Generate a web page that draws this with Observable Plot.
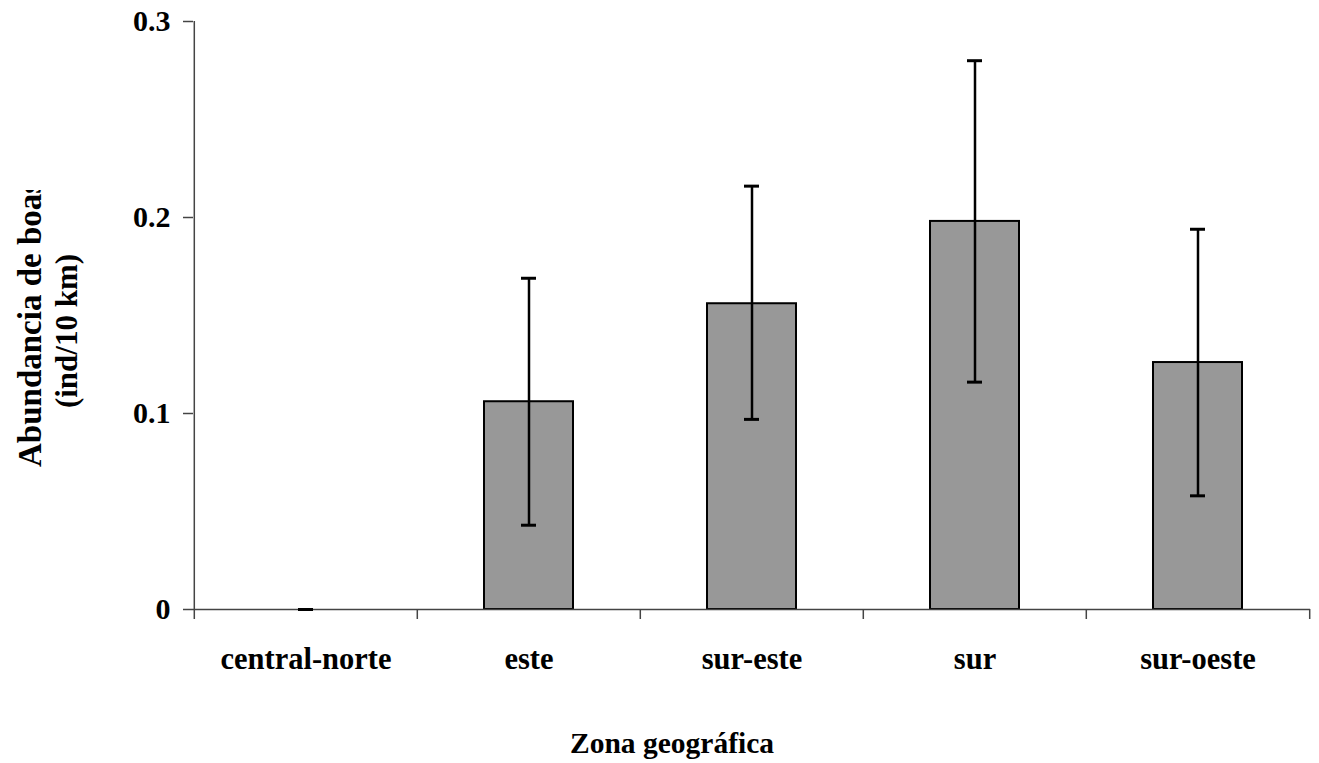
<!DOCTYPE html>
<html>
<head>
<meta charset="utf-8">
<script src="https://cdn.jsdelivr.net/npm/d3@7"></script>
<script src="https://cdn.jsdelivr.net/npm/@observablehq/plot@0.6"></script>
<style>
  html, body { margin: 0; padding: 0; background: #fff; }
  #chart svg { display: block; }
</style>
</head>
<body>
<div id="chart"></div>
<script>
// ---- data ----
const zonas = ["central-norte", "este", "sur-este", "sur", "sur-oeste"];
const media = [0, 0.106, 0.156, 0.198, 0.126];
const errorSup = [0, 0.169, 0.216, 0.280, 0.194];
const errorInf = [0, 0.043, 0.097, 0.116, 0.058];
const yTicks = [0, 0.1, 0.2, 0.3];
const yTickLabels = ["0", "0.1", "0.2", "0.3"];
const yLabelLine1 = "Abundancia de boas";
const yLabelLine2 = "(ind/10 km)";
const xLabel = "Zona geográfica";

const data = zonas.map((z, i) => ({zona: z, media: media[i], sup: errorSup[i], inf: errorInf[i]}));

// ---- layout ----
const W = 1319, H = 763, mL = 193, mR = 9, mT = 21, mB = 154;
const step = (W - mL - mR) / zonas.length;
const axisColor = "#444";
const font = "'Liberation Serif', 'Times New Roman', serif";

const chart = Plot.plot({
  width: W,
  height: H,
  marginLeft: mL,
  marginRight: mR,
  marginTop: mT,
  marginBottom: mB,
  style: {fontFamily: font, fontWeight: "bold", background: "white", color: "black"},
  x: {domain: zonas, paddingInner: 0.6, paddingOuter: 0.3, axis: null},
  y: {domain: [0, 0.3], axis: null},
  marks: [
    Plot.barY(data.filter(d => d.media > 0), {x: "zona", y: "media", fill: "#989898", ariaLabel: "bar-fill"}),
    Plot.barY(data.filter(d => d.media > 0), {x: "zona", y: "media", fill: "none", stroke: "black", strokeWidth: 2}),
    Plot.ruleY([0], {stroke: axisColor, strokeWidth: 1.5}),
    Plot.ruleX([zonas[0]], {dx: -step / 2, y1: 0, y2: 0.3, stroke: axisColor, strokeWidth: 1.5}),
    Plot.ruleX(data, {x: "zona", y1: "inf", y2: "sup", stroke: "black", strokeWidth: 2.5}),
    Plot.tickY(data, {x: "zona", y: "sup", stroke: "black", strokeWidth: 3, insetLeft: 37, insetRight: 37}),
    Plot.tickY(data, {x: "zona", y: "inf", stroke: "black", strokeWidth: 3, insetLeft: 37, insetRight: 37}),
    Plot.axisY(yTicks, {tickSize: 10, tickPadding: 13, fontSize: 30, stroke: axisColor, strokeWidth: 1.5,
      tickFormat: (d) => yTickLabels[yTicks.indexOf(d)], label: null}),
    Plot.axisX(zonas, {tickSize: 10, tickFormat: () => "", dx: -step / 2, stroke: axisColor, strokeWidth: 1.5, label: null}),
    Plot.axisX([zonas[zonas.length - 1]], {tickSize: 10, tickFormat: () => "", dx: step / 2, stroke: axisColor, strokeWidth: 1.5, label: null}),
    Plot.axisX(zonas, {tickSize: 0, tickPadding: 38, fontSize: 30.5, label: null})
  ]
});

document.getElementById("chart").appendChild(chart);

const svg = d3.select(chart);
const defs = svg.append("defs");
// speckled grey texture for the bars
const f = defs.append("filter").attr("id", "grain").attr("x", 0).attr("y", 0).attr("width", 1).attr("height", 1);
f.append("feTurbulence").attr("type", "fractalNoise").attr("baseFrequency", 0.9).attr("numOctaves", 2).attr("seed", 3).attr("result", "noise");
f.append("feColorMatrix").attr("in", "noise").attr("type", "matrix")
  .attr("values", "1.3 0 0 0 -0.05  1.3 0 0 0 -0.05  1.3 0 0 0 -0.05  0 0 0 0 1").attr("result", "grey");
f.append("feComposite").attr("in", "grey").attr("in2", "SourceGraphic").attr("operator", "in");
svg.selectAll('g[aria-label="bar-fill"]').attr("filter", "url(#grain)");

defs.append("clipPath").attr("id", "ylabclip")
  .append("rect").attr("x", 0).attr("y", 190).attr("width", 150).attr("height", 500);
const g = svg.append("g").attr("clip-path", "url(#ylabclip)")
  .style("font-family", font).style("font-weight", "bold");
g.append("text").attr("transform", "translate(41,467) rotate(-90)").style("font-size", "33px")
  .attr("text-anchor", "start").attr("fill", "black").text(yLabelLine1);
g.append("text").attr("transform", "translate(77,331) rotate(-90)").style("font-size", "31px")
  .attr("text-anchor", "middle").attr("fill", "black").text(yLabelLine2);

svg.append("text").attr("x", 672).attr("y", 753)
  .attr("text-anchor", "middle").attr("fill", "black")
  .style("font-family", font).style("font-weight", "bold").style("font-size", "29.5px")
  .text(xLabel);
</script>
</body>
</html>
